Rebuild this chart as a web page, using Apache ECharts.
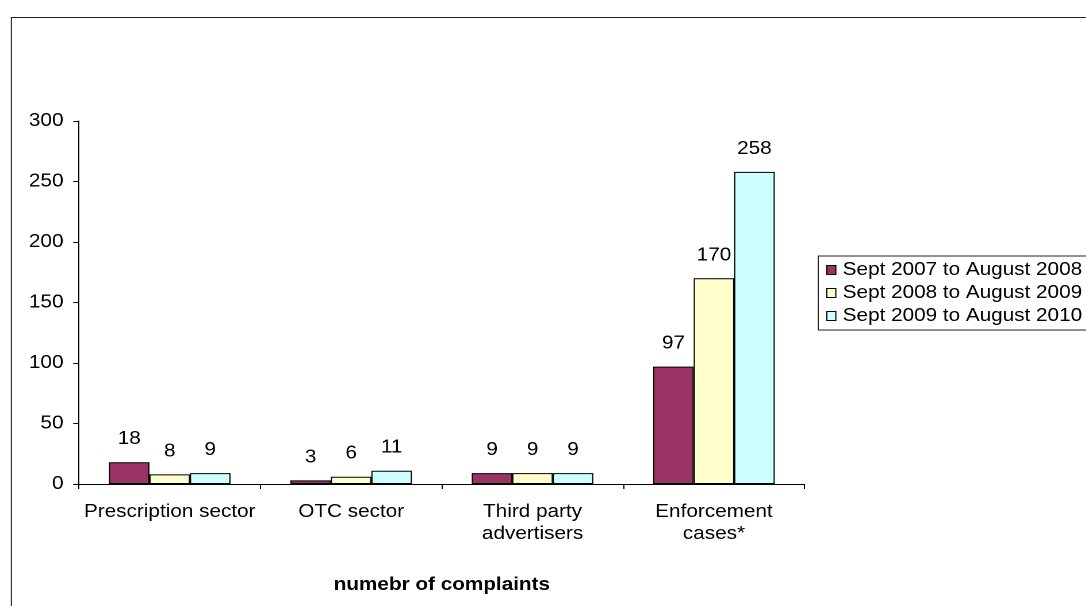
<!DOCTYPE html>
<html>
<head>
<meta charset="utf-8">
<script src="https://cdn.jsdelivr.net/npm/echarts@6/dist/echarts.min.js"></script>
<style>
  html, body { margin: 0; padding: 0; background: #fff; overflow: hidden; }
  /* the chart is laid out narrow and widened horizontally, like the original wide-stretched figure */
  #chart { width: 944px; height: 606px; transform: scaleX(1.15); transform-origin: 0 0; }
</style>
</head>
<body>
<div id="chart"></div>
<script>
const categories = ['Prescription sector', 'OTC sector', 'Third party\nadvertisers', 'Enforcement\ncases*'];
const seriesNames = ['Sept 2007 to August 2008', 'Sept 2008 to August 2009', 'Sept 2009 to August 2010'];
const period2007 = [18, 3, 9, 97];
const period2008 = [8, 6, 9, 170];
const period2009 = [9, 11, 9, 258];
const seriesColors = ['#993366', '#FFFFCC', '#CCFFFF'];
const yTicks = { min: 0, max: 300, interval: 50 };
const axisTitle = 'numebr of complaints';

const font = 'Liberation Sans, Arial, sans-serif';
const fontSize = 18;
const chart = echarts.init(document.getElementById('chart'), null, { devicePixelRatio: 2 });

const values = [period2007, period2008, period2009];
const series = values.map((data, i) => ({
  name: seriesNames[i],
  type: 'bar',
  data: data,
  barGap: '0%',
  barCategoryGap: '33%',
  itemStyle: { color: seriesColors[i], borderColor: '#000', borderWidth: 1 },
  label: {
    show: true, position: 'top', distance: 14,
    color: '#000', fontFamily: font, fontSize: fontSize
  },
  emphasis: { disabled: true }
}));

chart.setOption({
  animation: false,
  backgroundColor: '#fff',
  graphic: [{
    type: 'rect', silent: true, z: -1,
    shape: { x: 9.9, y: 17.5, width: 2000, height: 2000 },
    style: { fill: 'none', stroke: '#222', lineWidth: 1 }
  }],
  grid: { left: 68.7, right: 244.3, top: 121, bottom: 122, containLabel: false },
  legend: {
    orient: 'vertical',
    left: 711.5, top: 256,
    padding: [5, 8, 5, 7],
    itemGap: 5,
    itemWidth: 7.8, itemHeight: 9,
    icon: 'rect',
    backgroundColor: '#fff',
    borderColor: '#222', borderWidth: 1,
    itemStyle: { borderColor: '#000', borderWidth: 1 },
    textStyle: { color: '#000', fontFamily: font, fontSize: fontSize, padding: [0, 0, 0, 1] },
    data: seriesNames
  },
  xAxis: {
    type: 'category',
    data: categories,
    axisLine: { lineStyle: { color: '#000', width: 1 } },
    axisTick: { show: true, length: 5, lineStyle: { color: '#000' } },
    axisLabel: { color: '#000', fontFamily: font, fontSize: fontSize, margin: 17, lineHeight: 22, interval: 0 },
    name: axisTitle,
    nameLocation: 'middle',
    nameGap: 92,
    nameTextStyle: { color: '#000', fontFamily: font, fontSize: fontSize, fontWeight: 'bold' }
  },
  yAxis: {
    type: 'value',
    min: yTicks.min, max: yTicks.max, interval: yTicks.interval,
    axisLine: { show: true, lineStyle: { color: '#000', width: 1 } },
    axisTick: { show: true, length: 5, lineStyle: { color: '#000' } },
    axisLabel: { color: '#000', fontFamily: font, fontSize: fontSize, margin: 13.5 },
    splitLine: { show: false }
  },
  series: series
});
</script>
</body>
</html>
